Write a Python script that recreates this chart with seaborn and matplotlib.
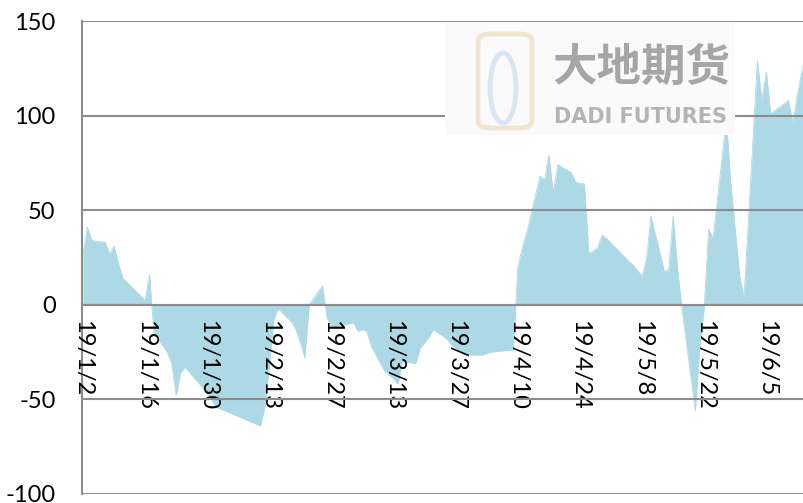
import numpy as np
import pandas as pd
import matplotlib
matplotlib.use("Agg")
import matplotlib.pyplot as plt
import seaborn as sns
from matplotlib.patches import FancyBboxPatch, Rectangle, Ellipse

# ---- data ----
dates = [
    "2019-01-02", "2019-01-03", "2019-01-04", "2019-01-07", "2019-01-08", "2019-01-09",
    "2019-01-10", "2019-01-11", "2019-01-14", "2019-01-15", "2019-01-16", "2019-01-17",
    "2019-01-18", "2019-01-21", "2019-01-22", "2019-01-23", "2019-01-24", "2019-01-25",
    "2019-01-28", "2019-01-29", "2019-01-30", "2019-01-31", "2019-02-01", "2019-02-11",
    "2019-02-12", "2019-02-13", "2019-02-14", "2019-02-15", "2019-02-18", "2019-02-19",
    "2019-02-20", "2019-02-21", "2019-02-22", "2019-02-25", "2019-02-26", "2019-02-27",
    "2019-02-28", "2019-03-01", "2019-03-04", "2019-03-05", "2019-03-06", "2019-03-07",
    "2019-03-08", "2019-03-11", "2019-03-12", "2019-03-13", "2019-03-14", "2019-03-15",
    "2019-03-18", "2019-03-19", "2019-03-20", "2019-03-21", "2019-03-22", "2019-03-25",
    "2019-03-26", "2019-03-27", "2019-03-28", "2019-03-29", "2019-04-01", "2019-04-02",
    "2019-04-03", "2019-04-04", "2019-04-08", "2019-04-09", "2019-04-10", "2019-04-11",
    "2019-04-12", "2019-04-15", "2019-04-16", "2019-04-17", "2019-04-18", "2019-04-19",
    "2019-04-22", "2019-04-23", "2019-04-24", "2019-04-25", "2019-04-26", "2019-04-28",
    "2019-04-29", "2019-04-30", "2019-05-05", "2019-05-06", "2019-05-07", "2019-05-08",
    "2019-05-09", "2019-05-10", "2019-05-13", "2019-05-14", "2019-05-15", "2019-05-16",
    "2019-05-17", "2019-05-20", "2019-05-21", "2019-05-22", "2019-05-23", "2019-05-24",
    "2019-05-27", "2019-05-28", "2019-05-29", "2019-05-30", "2019-05-31", "2019-06-03",
    "2019-06-04", "2019-06-05", "2019-06-06", "2019-06-10", "2019-06-11", "2019-06-12",
    "2019-06-13", "2019-06-14",
]
values = [
    27, 41, 34, 33, 27, 31,
    22, 14, 7, 5, 2, 16,
    -15, -25, -31, -48, -36, -33,
    -41, -44, -47, -50, -54, -64,
    -54, -33, -8, -2, -9, -13,
    -20, -28, 0, 10, -7, -11,
    -11.5, -11, -9.5, -14, -13, -14,
    -22, -35, -37, -39, -42, -30,
    -31, -23, -20, -17, -13, -18,
    -21, -23, -25, -26.5, -26.5, -26.5,
    -25.6, -25, -24, -24, 20, 30,
    38, 68, 66, 79, 59, 74,
    70, 65, 64, 64, 27, 30,
    37, 35, 23, 21, 18, 15,
    24, 47, 18, 18, 47, 19,
    -2, -56, -23, -2, 40, 35,
    98, 64, 40, 15, 4, 129,
    108, 123, 101, 108, 96, 111,
    123, 135,
]
tick_start = "2019-01-02"
tick_count = 12
tick_step = "14D"
y_ticks = [-100, -50, 0, 50, 100, 150]

FILL = "#ADD8E6"
GRID = "#8c8c8c"

sns.set_theme(style="white")
plt.rcParams["font.family"] = ["Lato", "DejaVu Sans"]
plt.rcParams["axes.unicode_minus"] = False

df = pd.DataFrame({"date": pd.to_datetime(dates), "value": values})

fig = plt.figure(figsize=(8.04, 5.03), dpi=100)
fig.patch.set_facecolor("white")
ax = fig.add_axes([82 / 804, 9 / 503, 722 / 804, 473 / 503])
ax.set_facecolor("white")

# watermark (behind everything)
fig.patches.append(Rectangle((445 / 804, 1 - 135 / 503), 290 / 804, 113 / 503,
                             transform=fig.transFigure, facecolor="#fafafa",
                             edgecolor="none", zorder=0))
fig.patches.append(FancyBboxPatch((478 / 804, 1 - 128 / 503), 54 / 804, 94 / 503,
                                  boxstyle="round,pad=0,rounding_size=0.015",
                                  transform=fig.transFigure, facecolor="none",
                                  edgecolor="#f0e6cf", linewidth=3.5, zorder=0))
fig.patches.append(Ellipse((503 / 804, 1 - 88 / 503), 26 / 804, 70 / 503,
                           transform=fig.transFigure, facecolor="none",
                           edgecolor="#dbe5f0", linewidth=3.5, zorder=0))
fig.text(641 / 804, 1 - 68 / 503, "大地期货", fontsize=32, color="#a6a6a6",
         ha="center", va="center", weight="bold",
         family=["Noto Sans CJK SC", "DejaVu Sans"], zorder=0)
fig.text(641 / 804, 1 - 117 / 503, "DADI FUTURES", fontsize=15, color="#b4b4b4",
         ha="center", va="center", weight="bold", family=["DejaVu Sans"], zorder=0)
ax.patch.set_alpha(0)

# area
ax.fill_between(df["date"], df["value"], 0, color=FILL, linewidth=0, zorder=1)
sns.lineplot(data=df, x="date", y="value", ax=ax, color=FILL, linewidth=0.6, zorder=1)

# axes styling
ax.set_ylim(-100, 150)
ax.set_yticks(y_ticks)
ax.set_yticklabels([str(v) for v in y_ticks])
ax.set_xlim(pd.Timestamp("2019-01-02") - pd.Timedelta(hours=5),
            pd.Timestamp("2019-06-13 12:00"))
ticks = pd.date_range(tick_start, periods=tick_count, freq=tick_step)
ax.set_xticks(ticks)
ax.set_xticklabels([f"{d:%y}/{d.month}/{d.day}" for d in ticks])

ax.set_axisbelow(False)
ax.yaxis.grid(True, color=GRID, linewidth=1.5)
ax.xaxis.grid(False)
for s in ["top", "right"]:
    ax.spines[s].set_visible(False)
ax.spines["left"].set_color(GRID)
ax.spines["left"].set_linewidth(1.5)
ax.spines["bottom"].set_position(("data", 0))
ax.spines["bottom"].set_color(GRID)
ax.spines["bottom"].set_linewidth(1.5)

ax.tick_params(axis="y", length=0, pad=19, labelsize=17, labelcolor="black")
ax.tick_params(axis="x", length=0, pad=11, labelsize=17, labelcolor="black",
               labelrotation=-90)
ax.set_xlabel("")
ax.set_ylabel("")

fig.savefig("out.png", dpi=100, facecolor="white")
